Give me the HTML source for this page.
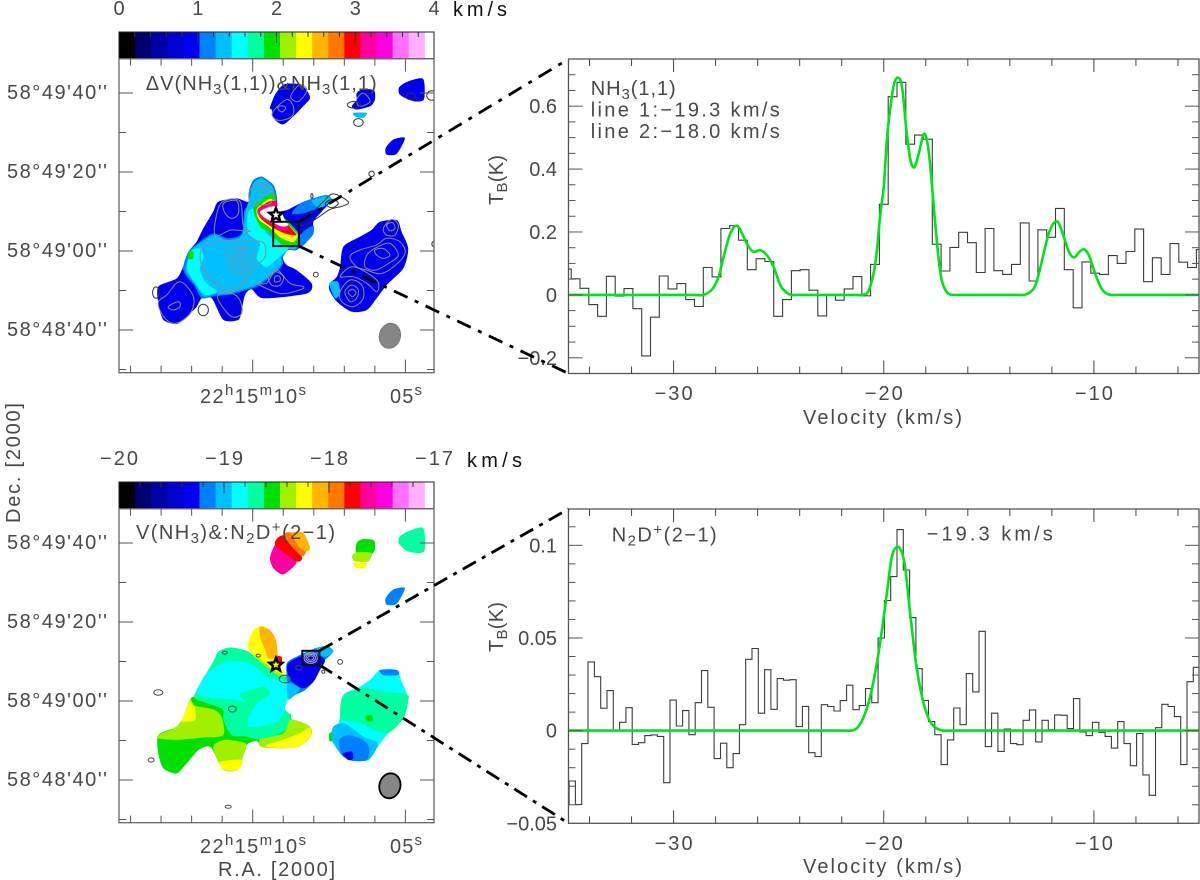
<!DOCTYPE html>
<html lang="en">
<head>
<meta charset="utf-8">
<title>NH3 and N2D+ maps and spectra</title>
<style>
html,body{margin:0;padding:0;background:#fff;width:1200px;height:880px;overflow:hidden}
svg{display:block}
text{font-family:"Liberation Sans","DejaVu Sans",sans-serif;fill:#484848;font-size:20px}
.dark{fill:#111}
</style>
</head>
<body>
<svg id="fig" width="1200" height="880" viewBox="0 0 1200 880" xmlns="http://www.w3.org/2000/svg">
<defs>
<clipPath id="clip-map-a"><rect x="119" y="58.7" width="315" height="314"/></clipPath>
<clipPath id="clip-map-b"><rect x="119" y="508.7" width="315" height="314"/></clipPath>
<clipPath id="clip-spec-a"><rect x="568.5" y="59" width="630.5" height="314.5"/></clipPath>
<clipPath id="clip-spec-b"><rect x="568.5" y="509" width="630.5" height="314.5"/></clipPath>
</defs>
<g id="map-a"></g>
<g id="map-b"></g>
<g id="spec-a"></g>
<g id="spec-b"></g>
<g id="links"></g>

<text x="145.7" y="90" textLength="231">ΔV(NH<tspan font-size="15" dy="4">3</tspan><tspan dy="-4">(1,1))&amp;NH</tspan><tspan font-size="15" dy="4">3</tspan><tspan dy="-4">(1,1)</tspan></text>
<text x="136" y="539" textLength="199">V(NH<tspan font-size="15" dy="4">3</tspan><tspan dy="-4">)&amp;:N</tspan><tspan font-size="15" dy="4">2</tspan><tspan dy="-4">D</tspan><tspan font-size="15" dy="-7">+</tspan><tspan dy="7">(2−1)</tspan></text>
<text class="dark" x="453" y="16" textLength="54">km/s</text>
<text class="dark" x="467" y="467" textLength="55">km/s</text>

<text x="200" y="403" textLength="106">22<tspan font-size="15" dy="-8">h</tspan><tspan dy="8">15</tspan><tspan font-size="15" dy="-8">m</tspan><tspan dy="8">10</tspan><tspan font-size="15" dy="-8">s</tspan></text>
<text x="390" y="403" textLength="32">05<tspan font-size="15" dy="-8">s</tspan></text>
<text x="200" y="853" textLength="106">22<tspan font-size="15" dy="-8">h</tspan><tspan dy="8">15</tspan><tspan font-size="15" dy="-8">m</tspan><tspan dy="8">10</tspan><tspan font-size="15" dy="-8">s</tspan></text>
<text x="390" y="853" textLength="32">05<tspan font-size="15" dy="-8">s</tspan></text>
<text x="218" y="876" textLength="117">R.A. [2000]</text>
<text transform="translate(20,523) rotate(-90)" textLength="120">Dec. [2000]</text>

<text x="590.7" y="95" textLength="85">NH<tspan font-size="15" dy="4">3</tspan><tspan dy="-4">(1,1)</tspan></text>
<text x="590.7" y="116.7" textLength="189">line 1:−19.3 km/s</text>
<text x="590.7" y="138" textLength="189">line 2:−18.0 km/s</text>
<text x="611.7" y="541.7" textLength="105">N<tspan font-size="15" dy="4">2</tspan><tspan dy="-4">D</tspan><tspan font-size="15" dy="-7">+</tspan><tspan dy="7">(2−1)</tspan></text>
<text x="926.7" y="540.7" textLength="126">−19.3 km/s</text>
<text transform="translate(503,205) rotate(-90)" textLength="50">T<tspan font-size="15" dy="4">B</tspan><tspan dy="-4">(K)</tspan></text>
<text transform="translate(503,652) rotate(-90)" textLength="50">T<tspan font-size="15" dy="4">B</tspan><tspan dy="-4">(K)</tspan></text>
<text x="803" y="424" textLength="159">Velocity (km/s)</text>
<text x="803" y="873" textLength="159">Velocity (km/s)</text>
</svg>

<script>
/* ---------- colour scale ---------- */
const palette = ['#000000','#00006e','#0000a8','#0000d0','#0000ee','#0080ff','#00c0ff','#00ffff','#00ffa0','#00e000','#a0f000','#ffff00','#ffb400','#ff7800','#ff0000','#ff00a0','#ff00e0','#ff70ff','#ffb0ff','#ffffff'];
const binsAcrossBar = 19.57;

/* ---------- colour-bar ticks ---------- */
const barTicksA = [0,1,2,3,4];
const barTicksB = [-20,-19,-18,-17];
const barTickLabelsA = ['0','1','2','3','4'];
const barTickLabelsB = ['−20','−19','−18','−17'];

/* ---------- map axes: RA seconds and Dec arcsec from 58°49'00'' ---------- */
const raTicks = [14,13,12,11,10,9,8,7,6,5];
const raMajor = [10,5];
const decTicks = [40,30,20,10,0,-10,-20,-30];
const decMajor = [40,20,0,-20];
const decLabels = ["58°49'40''","58°49'20''","58°49'00''","58°48'40''"];

/* ---------- map regions in map-pixel indices [i,j,...] with fitted value ---------- */
const blobA = [50.3,88.2,52,92.7,54.8,96,59.2,96.3,62,94.9,63.7,91.6,61.4,88.8,58.7,86,55.3,83,53.7,83,51.4,84.9,50.9,87.7];
const blobB = [79.2,93.2,81.4,94.6,85,94.1,85.3,91,83.7,88.8,79.2,87.7,77.6,88.8,79.2,91];
const blobBLow = [78.1,86.6,82.6,86.6,81.4,84.9,78.7,85.4];
const blobC = [93.4,95.2,96.4,97.1,101.4,97.9,101.7,91.2,98.7,90.4,95.3,91.6,93.4,93];
const blobD = [88.9,74.9,91.4,77.7,95.3,78.2,92.6,73,89.2,72.7];
const mainOuter = [33.1,57,39.2,58.1,43.1,57,43.4,60.9,44.8,64.2,47.6,65.3,51.4,62.6,52.6,58.7,53.1,54.2,55.9,54.2,60.3,56.4,64.8,58.1,69.2,59.2,70.9,57.6,67.6,53.7,64.8,50.3,64.8,46.4,62.6,43.7,59.2,40.9,56.4,40.9,54.6,38.4,55.9,35.9,59.2,34.2,64.2,29.8,62.6,26.4,48.1,24.8,44.2,27.8,42,25.9,40.9,20.9,39.8,17.6,34.8,17.6,30.9,24.8,27.6,24.8,25.9,22,22.6,18.7,19.2,16.2,14.8,17.6,13.1,23.1,13.1,28.7,19.2,31.4,21.4,35.3,23.7,40.9,25.9,43.7,28.1,48.1,31.4,53.7];
const mainAzure = [23.1,40.3,26.4,43.3,31.4,46.4,36.4,44.8,40.9,46.4,41.7,53.7,43.2,56.4,43.4,60.9,44.8,64.2,47.6,65.3,51.4,62.6,52.6,58.7,53.1,53.7,60.3,46.4,62.6,43.7,59.2,40.9,56.4,40.9,54.6,38.4,54.2,35.3,47,29.2,42.6,27.6,36.4,25.9,32,25.6,27.6,24.8,25.3,28.7,21.4,34.2];
const mainSky = [24,40.6,26.8,43,31.4,45.8,36.4,44.2,41,45.9,42.2,53.7,43.7,58.7,45,63.4,47.6,64.8,51,62.2,52.2,58.1,52.8,53.1,60,46,62,43.7,59,41.2,56.4,41.2,54.3,38.8,53.6,35.3,47,29.8,42,28,36.4,26.4,32,26.2,28.2,25.4,25.7,29,22.2,34.2];
const mainCyanW = [23.7,40.3,27,41.4,28.1,38.6,27,34.2,29.2,29.8,32.6,27,28.7,25.9,25.9,29.2,22.8,34.2];
const mainCyanE = [43.1,53.7,45.9,54.2,49.2,46.4,53.7,43.7,56.4,41.4,54.2,39.2,49.2,35.3,45.9,38.1,47,43.3,43.1,46.4];
const arcGreen = [44.8,54.8,49.2,58.9,52,59.6,52.6,53.1,55.9,50.9,59.8,46.4,59.2,42.6,55.3,42,51.4,45.3,49.8,47,47,48.7];
const arcYellow = [45.9,54.4,49.8,57.8,52,57.2,52.6,53.1,55.9,49.8,59.5,46,58.1,43.6,54.2,44.8,49.8,48.7,46.8,50.9];
const arcRed = [46.2,54.4,49.8,57,52.6,57,52.9,52.7,56.4,49.2,59.2,45.9,55.3,46.4,50.3,49,47,51.7];
const arcPink = [46.2,54.2,50.3,56.4,52.6,56.4,52.9,52,56.4,48.4,54.8,47.6,50.3,49.8,47,52];
const arcWhite = [47,53.7,50.3,55.3,53.1,55.3,54.2,53.7,55.3,50.9,56.4,49.2,54.2,48.7,50.3,50.7,48.1,52];
const arcSpot = [52.6,48.7,54.8,48.7,55.7,47.6,53.1,47.6];
const patchGreen = [23.1,40.3,24.8,40.3,24.8,38.1,23.1,37.9];
const tailAzure = [60.3,56.4,64.8,58.1,69.2,59.2,70.9,57.6,67.6,55.3,61.4,53.1,57.6,53.1];
const tailSky = [64.2,57.3,69.2,58.9,70.9,57.6,67,54.8];
const tailEdge = [61.4,47,64.8,49,64.8,46.4,62.6,43.7,59.2,40.9,59.2,42.6];
const eastOuter = [74.8,42,80.3,45.3,84.2,47.6,87,50.3,92.6,50.9,94.2,47,96.4,41.4,94.8,34.8,89.2,29.2,85.9,24.8,82.6,20.9,77.6,20.3,72.6,23.7,70.1,27.6,70.3,29.8,72.6,32,73.7,35.3];
const eastSliver = [70.1,29.8,73,30.3,73.7,26.4,72,24.8];

const bMainTeal = [33.1,57,37,58.4,42.6,57.3,45.3,55.3,49.2,52,53.1,49.2,55.9,48.7,56.4,42,55.3,38.1,57,35.9,57.6,33.1,54.2,29.8,47,27.6,42.6,28.7,37.6,29.2,34.8,34.2,34.8,37.6,31.4,39.2,25.3,41.4,25.9,44.2,28.1,48.1,31.4,53.7];
const bGreen = [25.3,42,31.4,39.8,35.7,37.6,36.1,33.1,38.1,29.8,47,28.4,53.7,30.3,57,36.4,57.9,33.1,63.7,32,63.9,28.7,59.2,25.1,48.1,25.1,45.9,27.3,42.6,25.9,40.9,20.9,39.8,17.6,34.8,17.6,30.9,24.8,28.7,25.3,25.9,23.7,22.6,19.8,19.2,16.4,14.8,18.1,13.1,23.1,13.1,29.2,19.2,32,21.4,35.3,23.7,40.9];
const bLimeW = [19.2,32,21.4,35.3,23.7,40.9,25.3,39,31.4,37.8,34.2,35.3,34.8,29.2,28.1,28.4,19.2,27.6,13.2,28.1,13.2,29.2];
const bLimeS = [31.4,25.3,35.3,27.6,40.3,27,42.6,25.9,40.9,20.9,39.8,17.6,34.8,17.6];
const bYellowS = [33.7,20.3,40.9,20.9,39.8,17.6,34.8,17.6];
const bLimeE = [47,27.6,54.8,29.8,57,34.2,60.3,33.7,63.7,32,63.9,28.7,59.2,25.1,48.1,25.1];
const bYellowE = [49.2,25.9,53.7,27.3,60.3,29.8,63.7,31.8,63.9,28.7,59.2,25.1,50.3,25.1];
const bYellowW = [21.4,35.3,23.7,40.3,25.3,38.1,25.3,34.2,20.9,33.7];
const bCyan = [25.9,43.7,29.2,49.8,35.9,53.7,43.7,53.1,49.2,48.7,53.7,47.6,55.9,46.4,56.1,42,55.3,38.1,54.2,35.3,51.4,33.1,45.9,32,43.1,32,43.1,35.3,42.6,39.8,35.9,41.4,31.4,41.4,27,42.6];
const bTealBand = [40.3,42.9,48.1,45.3,50.3,42.9,45.9,39.8,43.1,35.3,42.6,39.8];
const bTailAzure = [55.9,53.1,60.3,55.9,65.3,58.1,69.2,58.9,71.4,57,67.6,53.1,65.3,47.6,62,44.2,58.7,42.6,56.4,41.2,56.1,46.4];
const bTailSkyLow = [55.9,45.9,57.6,46.4,60.3,44.8,58.7,42.6,56.4,41.2];
const bTailSkyTip = [65.9,58.1,69.2,58.7,71.4,57,68.7,55.3,66.4,56.4];
const bTailDark = [56.4,53.1,60.3,55.3,65.9,55.9,68.7,54.2,67,50.9,64.8,47,61.4,44.8,57.6,47,56.1,50.3];
const bCapYellow = [43.1,59.8,44.8,64.2,47.6,65.6,50.3,64.2,52.3,60.9,52.6,55.9,54.2,54.8,54.2,50.9,55.9,50.3,55.3,49.8,52.6,49.8,49.2,52,45.3,55.3,43.4,57.6];
const bCapOrange = [47,65.3,50.3,64.2,52.3,60.9,52.8,55.3,49.8,54.8,48.7,57.6,47,62];
const bCapRed = [52,55.6,54.2,55.3,54.2,53.7,52.6,54.2];
const bCapLime = [45.3,55.9,48.1,53.7,52.6,50.3,55.9,48.9,53.1,49.2,49.2,52];
const bEastCyan = [74.8,42.6,80.3,45.3,84.2,48.1,87,50.9,92.6,50.9,94.2,47,96.4,41.4,94.8,34.8,89.2,29.2,85.9,24.8,83.1,20.9,77.6,20.7,74.2,22.6,70.9,27.6,70.3,29.8,72.6,32,73.7,35.3];
const bEastTeal = [74.6,42.1,81.4,44.8,89.2,43.7,96.1,42.6,96.4,40.9,94.8,34.8,89.2,29.8,80.3,33.1,74.8,34.2,73.7,35.3];
const bEastSky = [71.4,32,75.3,33.1,81.4,28.7,85.9,27,85.9,24.8,83.1,20.9,77.6,20.7,74.2,22.6,70.9,27.6];
const bEastAzure = [73.4,27.6,76.4,29.2,81.4,27.6,83.4,24.8,82.6,20.9,77.6,20.7,74.2,22.6];
const bEastDark = [74.6,23.1,77.6,23.7,78.1,21.4,76.4,20.9];
const bEastTip = [87,50.9,92.6,50.9,93.1,49.2,88.1,49.2];
const bEastDot = [82,35.3,84.2,35.9,84.8,34.2,83.1,33.7];
const bEastEdge = [70.1,29.8,71,29.8,71,27.3,70.1,27.3];
const bBlobPink = [50.3,88.2,52,92.7,54.2,93.8,59.2,87.1,55.3,83,53.7,83,51.4,84.9];
const bBlobRed = [52,92.7,54.8,95.7,60.9,88.8,59.2,87.1];
const bBlobOrange = [54.8,95.7,57.6,96.6,62.3,91.6,60.9,88.8];
const bBlobAmber = [57.6,96.6,61.4,96.6,63.7,91.6,62.3,90.4,60,92];
const bBGreen = [79.2,93.2,81.4,94.6,85,94.1,85.3,91,83.7,89.3,79.2,89.9];
const bBLime = [77.6,88.8,79.2,90.1,84.2,89.9,83.1,87.1,78.7,87.1];
const bBYellow = [78.1,86.6,82.6,86.6,81.9,84.9,79.2,84.9];
const bCTeal = [93.4,95.2,96.4,97.1,101.4,98.2,101.7,90.4,96.4,90.4,93.4,92.9];

const layerValuesA = [0.9,0.9,1.3,0.9,0.9,0.9,1.1,1.3,1.5,1.5,1.9,2.3,2.9,3.1,3.9,3.1,1.9,1.1,1.3,1.1,0.9,1.3];
const layerShapesA = [blobA,blobB,blobBLow,blobC,blobD,mainOuter,mainAzure,mainSky,mainCyanW,mainCyanE,arcGreen,arcYellow,arcRed,arcPink,arcWhite,arcSpot,patchGreen,tailAzure,tailSky,tailEdge,eastOuter,eastSliver];
const layerValuesB = [-18.575,-18.725,-18.425,-18.425,-18.275,-18.425,-18.275,-18.275,-18.875,-18.725,-19.175,-19.025,-19.025,-19.325,-18.275,-18.125,-17.825,-18.425,-18.875,-18.725,-19.025,-19.175,-19.325,-19.175,-18.575,-18.575,-17.675,-17.825,-17.975,-18.125,-18.575,-18.425,-18.275,-18.725,-19.175];
const layerShapesB = [bGreen,bMainTeal,bLimeW,bLimeS,bYellowS,bLimeE,bYellowE,bYellowW,bCyan,bTealBand,bTailAzure,bTailSkyLow,bTailSkyTip,bTailDark,bCapYellow,bCapOrange,bCapRed,bCapLime,bEastCyan,bEastTeal,bEastSky,bEastAzure,bEastDark,bEastTip,bEastDot,bEastEdge,bBlobPink,bBlobRed,bBlobOrange,bBlobAmber,bBGreen,bBLime,bBYellow,bCTeal,blobD];

/* ---------- contours, map-pixel indices ---------- */
const contoursGrayA = [
[27.6,41.4,33.7,43.6,42.6,43.9,48.1,43.3,48.7,38.7,46,35.9,42.6,32,40.9,28.7,36.4,27.6,31.4,30.4,27.6,35.3],
[36.4,41.2,41.4,42,45.3,40.1,43.7,35.7,40.4,32.9,37.6,34,36.4,37.6],
[38.1,39.2,41.4,40.9,43.1,38.4,40.9,34.7,38.7,35.2],
[39,38.4,40.9,39.2,41.2,37,39.8,36.4],
[34.8,56.4,39.2,57.3,39.8,53.1,37.6,51.4,35.4,53.1],
[33.1,54.8,35.9,57.6,40.4,57,41.4,49.2,43.7,47,37.6,47.6,32,45.9],
[49.8,32,52,33.7,54.8,32,53.7,29.2,50.9,29.2],
[52,32,53.4,32.2,53.7,30.7,52,30.3],
[49.2,29.8,52.6,34.2,57,29.8,61.4,28.7,60.3,27.6,53.7,26.4,46,29.8],
[15.9,25.9,20.3,30.3,24.8,25.3,23.7,19.7,18.7,16.4,14.8,18.7,13.1,23.4],
[16.4,22,19.8,23.7,20.3,22,18.1,20.9],
[37.6,26.4,40.3,24.2,40.9,19.8,37.6,18.7,33.7,23.1,33.1,25.9],
[43.7,60.9,48.1,63.1,51.4,59.8,50.3,56.4,46.4,55.9,43.7,56.4],
[46.8,61,48.7,62.2,49.2,60.7,47.6,60],
[77,38.7,80.3,40.9,85.9,42.6,89.2,44.8,93.7,43.6,95.3,39.7,91.4,35.2,87,33,82.6,34.2,79.2,35.3],
[82.6,39.2,85.9,41.8,90.3,43.1,93.1,39.2,89.8,36.4,85.4,34.2,82,35.3],
[85.3,40.9,88.1,41.4,90.3,39.2,88.1,38.1,85.9,39.2],
[88.1,48.1,90.9,51.1,93.1,49.2,92,45.9,89.2,45.9],
[89.2,49.2,91.2,50,92,48.1,90.3,47.3],
[73.7,27,77,30.9,80.9,29.2,81.4,24.8,78.1,22,74.2,23.7],
[75.3,27,77.6,29.2,79.8,27.6,79.2,24.8,77,23.7],
[76.4,26.9,77.8,27.8,79,26.7,77.8,25.3],
[73.7,32,78.1,35.3,85.9,30.9,85.9,27,82.6,29.8,78.1,32],
[51.1,86.6,55.8,91,58.1,88.8,57.6,85.4,53.1,84.1],
[52.9,88.2,54.2,89,55.6,88.2,54.2,86.9],
[57.2,92.1,60.3,96,62.6,94.1,59.8,90.4],
[79.2,91,81.4,93.2,83.7,90.4,80.3,88.8]
];
const contoursDarkA = [
[60.3,49.8,64.8,53.7,68.1,57,71.4,59.6,76.4,57,74.7,55.6,70.3,54.4,65.9,51.4,61.9,49.2],
[68.7,56.4,71.4,57.8,73.1,56.4,70.9,55]
];
/* small closed contours: centre i, centre j, radius i, radius j */
const smallContoursA = [[28.1,20.9,1.7,1.9],[12.3,26.7,1.1,1.9],[65.6,32.7,0.8,0.8],[64.3,58.9,0.35,0.8],[104.8,42.9,0.5,0.8],[78.3,89.3,2.2,1.1],[79.8,83.4,1.6,1.3],[84.2,66.3,0.9,0.9],[104.2,92.4,1.6,1.6],[97.2,92.1,1.6,1.1]];
const smallContoursB = [[35.3,56.7,0.8,0.5],[46.4,55.7,0.7,0.5],[13.1,43.4,1.5,0.9],[37.8,37.9,1.3,1],[55.3,47.9,1.9,1.3],[60,51.7,1.1,0.8],[10.7,20.9,1,0.7],[73.7,53.6,0.8,0.8],[68.1,50.3,0.5,0.5],[36.4,5.3,1,0.5]];
const clumpContoursB = [[63.9,54.9,2.2,1.8],[63.9,54.9,1.6,1.2],[63.9,54.9,1,0.7]];

/* ---------- markers: zoom box [iMin,iMax,jMin,jMax], star [i,j], beam [i,j,ri,rj] ---------- */
const zoomBoxA = [51.4,60,42.2,50.3];
const zoomBoxB = [61.1,66.8,52.6,57.3];
const starPos = [52.3,52.6];
const beamPos = [90.3,12.3,3.5,4.2];

/* ---------- spectrum 1: NH3(1,1) ---------- */
const spec1Start = -35.29;
const spec1Width = 0.419;
const spec1Values = [0.082,0.051,0.021,-0.031,-0.068,0.059,-0.004,0.02,-0.044,-0.194,-0.071,0.06,0.019,0.036,-0.015,-0.037,0.087,0.057,0.211,0.22,0.174,0.08,0.115,0.106,-0.068,-0.015,0.077,0.08,0.015,-0.067,0,-0.017,0.019,0.058,-0.003,0.097,0.288,0.63,0.676,0.479,0.508,0.495,0.161,0.076,0.151,0.199,0.166,0.071,0.211,0.077,0.065,0.097,0.229,0.044,0.207,0.183,0.275,0.08,-0.041,0.105,0.069,0.065,0.125,0.1,0.138,0.209,0.042,0.118,0.065,0.163,0.104,0.087,0.144];
const fit1Vel = [-35,-30,-29,-28.57,-28.17,-27.86,-27.62,-27.3,-26.98,-26.67,-26.43,-26.19,-25.87,-25.56,-25.24,-24.92,-24.6,-24.36,-24,-22,-21.4,-21.03,-20.71,-20.4,-20.16,-20,-19.84,-19.68,-19.52,-19.33,-19.13,-18.92,-18.73,-18.54,-18.33,-18.09,-17.89,-17.7,-17.54,-17.38,-17.22,-16.98,-16.74,-16.4,-15,-13.7,-13.33,-13.01,-12.78,-12.54,-12.22,-11.98,-11.71,-11.46,-11.19,-10.95,-10.71,-10.48,-10.24,-10,-9.76,-9.52,-9.2,-8.8,-5];
const fit1Temp = [0,0,0,0,0.017,0.057,0.121,0.195,0.22,0.185,0.153,0.137,0.142,0.126,0.089,0.031,0.006,0,0,0,0,0,0.015,0.1,0.259,0.344,0.503,0.599,0.668,0.691,0.662,0.524,0.429,0.406,0.45,0.512,0.471,0.344,0.217,0.11,0.041,0.007,0,0,0,0,0,0.01,0.031,0.089,0.179,0.222,0.232,0.19,0.137,0.119,0.135,0.145,0.126,0.079,0.036,0.01,0,0,0];
const spec1YTicks = [-0.2,0,0.2,0.4,0.6];
const spec1YLabels = ['−0.2','0','0.2','0.4','0.6'];

/* ---------- spectrum 2: N2D+(2-1) ---------- */
const spec2Start = -35.27;
const spec2Width = 0.3;
const spec2Values = [-0.0399,-0.0272,-0.0399,-0.007,0.0371,0.0291,0.0121,0.0216,0,0.0045,0.0124,-0.0074,-0.0065,-0.0027,-0.0023,-0.0031,-0.0281,0.0165,0.0025,0.0108,-0.0022,0.0151,0.0324,0.0126,-0.0151,-0.0068,-0.02,-0.0124,0.0032,0.0385,0.0443,0.0094,0.0329,0.0115,0.0281,0.0272,0.0275,0.0022,0.0131,-0.0119,-0.014,0.014,0.013,0.0106,0.0162,0.0245,0.0113,0.0135,0.0227,0.0151,0.05,0.0702,0.0831,0.1085,0.0867,0.061,0.0335,0.0162,0.0049,-0.0022,-0.0183,-0.005,0.0122,0.0032,0.0308,0.0209,0.0536,-0.0086,0.0094,-0.0112,0.0009,-0.007,-0.0076,0.0056,0.0112,-0.0061,0.0056,0.0005,0.0085,0.0083,0.0011,0.0173,-0.0007,-0.0027,0.0045,-0.0009,-0.0031,-0.0094,0.0049,-0.007,-0.0189,-0.0016,-0.0239,-0.0349,0.0016,0.0142,0.013,0.0076,-0.0183,0.0264,0.0342];
const fit2Vel = [-35,-25,-22,-21.59,-21.27,-20.95,-20.63,-20.32,-20.08,-19.84,-19.6,-19.28,-19.01,-18.73,-18.46,-18.17,-17.86,-17.54,-17.14,-16.7,-12,-5];
const fit2Temp = [0,0,0,0,0.0014,0.0075,0.019,0.037,0.055,0.075,0.0946,0.099,0.09,0.062,0.036,0.018,0.0065,0.0016,0,0,0,0];
const spec2YTicks = [-0.05,0,0.05,0.1];
const spec2YLabels = ['−0.05','0','0.05','0.1'];

const velTicks = [-34,-32,-30,-28,-26,-24,-22,-20,-18,-16,-14,-12,-10,-8,-6];
const velMajor = [-30,-20,-10];
const velLabels = ['−30','−20','−10'];

/* ---------- helpers ---------- */
const NS = 'http://www.w3.org/2000/svg';
function mk(parent, tag, attrs){
  const el = document.createElementNS(NS, tag);
  for (const k in attrs) el.setAttribute(k, attrs[k]);
  parent.appendChild(el);
  return el;
}
function smoothPath(pts, closed, soft){
  const n = pts.length;
  const div = soft || 6;
  const at = k => closed ? pts[(k+n)%n] : pts[Math.max(0,Math.min(n-1,k))];
  let d = 'M'+pts[0][0].toFixed(1)+' '+pts[0][1].toFixed(1);
  const last = closed ? n : n-1;
  for (let k=0;k<last;k++){
    const p0=at(k-1),p1=at(k),p2=at(k+1),p3=at(k+2);
    const c1=[p1[0]+(p2[0]-p0[0])/div,p1[1]+(p2[1]-p0[1])/div];
    const c2=[p2[0]-(p3[0]-p1[0])/div,p2[1]-(p3[1]-p1[1])/div];
    d+='C'+c1[0].toFixed(1)+' '+c1[1].toFixed(1)+' '+c2[0].toFixed(1)+' '+c2[1].toFixed(1)+' '+p2[0].toFixed(1)+' '+p2[1].toFixed(1);
  }
  return d+(closed?'Z':'');
}

/* ---------- map panel ---------- */
function drawMap(root, o){
  const L=119,R=434,T=o.offset+58.7,B=o.offset+372.7,barT=o.offset+32;
  const gx = i => L+3*i;
  const gy = j => B-3*j;
  const raX = s => 252.7+(10-s)*30.54;
  const decY = a => o.offset+251-a*3.95;
  const barX = v => L+(v-o.vmin)/(o.vmax-o.vmin)*(R-L);
  const binOf = v => Math.max(0,Math.min(palette.length-1,Math.floor((v-o.vmin)/(o.vmax-o.vmin)*binsAcrossBar)));

  /* colour bar */
  palette.forEach((c,k)=>{
    const x0=L+(R-L)*k/binsAcrossBar, x1=Math.min(R,L+(R-L)*(k+1)/binsAcrossBar);
    const r=mk(root,'rect',{x:x0,y:barT,width:x1-x0+0.4,height:T-barT,fill:c});
    
    
  });
  const nMinor=Math.round((o.vmax-o.vmin)/0.2);
  for(let k=0;k<=nMinor;k++){
    const v=o.vmin+k*0.2;
    const major=Math.abs(v-Math.round(v))<1e-6;
    const t=mk(root,'line',{x1:barX(v),x2:barX(v),y1:barT,y2:barT+(major?11:5),stroke:'#333','stroke-width':1});
    
    
  }
  const fr=mk(root,'rect',{x:L,y:barT,width:R-L,height:T-barT,fill:'none',stroke:'#222','stroke-width':1});
  
  
  o.barTicks.forEach((v,k)=>{
    const lb=mk(root,'text',{x:barX(v),y:o.offset+15,'text-anchor':'middle'});
    if(o.barLabels[k].length>1) lb.setAttribute('textLength',38);
    lb.textContent=o.barLabels[k];
    
    
  });

  /* image */
  const img=mk(root,'g',{'clip-path':'url(#'+o.clip+')'});
  
  
  const toPts = s => { const a=[]; for(let m=0;m<s.length;m+=2) a.push([gx(s[m]),gy(s[m+1])]); return a; };
  o.shapes.forEach((s,k)=>{
    const p=mk(img,'path',{d:smoothPath(toPts(s),true,8),fill:palette[binOf(o.values[k])]});
    
    
  });

  /* contours */
  o.grayContours.forEach(s=>{
    const c=mk(img,'path',{d:smoothPath(toPts(s),true),fill:'none',stroke:'#8c8c8c','stroke-width':1});
    
    
  });
  o.darkContours.forEach(s=>{
    const c=mk(img,'path',{d:smoothPath(toPts(s),true),fill:'none',stroke:'#333','stroke-width':1});
    
    
  });
  o.small.forEach(e=>{
    const c=mk(img,'ellipse',{cx:gx(e[0]),cy:gy(e[1]),rx:e[2]*3,ry:e[3]*3,fill:'none',stroke:o.smallStroke,'stroke-width':1});
    
    
  });
  if(o.clump) o.clump.forEach(e=>{
    const c=mk(img,'ellipse',{cx:gx(e[0]),cy:gy(e[1]),rx:e[2]*3,ry:e[3]*3,fill:'none',stroke:'#aaa','stroke-width':1});
    
    
  });

  /* zoom box */
  const zb=o.box;
  const bx=mk(root,'rect',{x:gx(zb[0]),y:gy(zb[3]),width:gx(zb[1])-gx(zb[0]),height:gy(zb[2])-gy(zb[3]),fill:'none',stroke:'#111','stroke-width':2});
  
  

  /* star */
  const sp=[];
  for(let k=0;k<10;k++){
    const r=k%2?3.1:6.9, a=-Math.PI/2+k*Math.PI/5;
    sp.push((gx(starPos[0])+r*Math.cos(a)).toFixed(1)+','+(gy(starPos[1])+r*Math.sin(a)).toFixed(1));
  }
  const st=mk(root,'polygon',{points:sp.join(' '),fill:'none',stroke:'#000','stroke-width':2.4});
  
  

  /* beam */
  const bm=mk(root,'ellipse',{cx:gx(beamPos[0]),cy:gy(beamPos[1]),rx:beamPos[2]*3,ry:beamPos[3]*3,fill:'#868686',stroke:o.beamStroke,'stroke-width':o.beamWidth,transform:'rotate(14 '+gx(beamPos[0])+' '+gy(beamPos[1])+')'});
  
  

  /* frame + ticks */
  const f=mk(root,'rect',{x:L,y:T,width:R-L,height:B-T,fill:'none',stroke:'#666','stroke-width':1.3});
  
  
  raTicks.forEach(s=>{
    const len=raMajor.includes(s)?13:7;
    [[T,T+len],[B,B-len]].forEach(pair=>{
      const t=mk(root,'line',{x1:raX(s),x2:raX(s),y1:pair[0],y2:pair[1],stroke:'#555','stroke-width':1});
      
      
    });
  });
  decTicks.forEach(a=>{
    const len=decMajor.includes(a)?14:7;
    [[L,L+len],[R,R-len]].forEach(pair=>{
      const t=mk(root,'line',{x1:pair[0],x2:pair[1],y1:decY(a),y2:decY(a),stroke:'#555','stroke-width':1});
      
      
    });
  });
  decMajor.forEach((a,k)=>{
    const lb=mk(root,'text',{x:7,y:decY(a)+6,textLength:100});
    lb.textContent=decLabels[k];
    
    
  });
}

/* ---------- spectrum panel ---------- */
function drawSpectrum(root, o){
  const L=568.5,R=1199,T=o.top,B=o.bottom;
  const vx = v => L+(v+35)/30*(R-L);
  const ty = t => B-(t-o.ymin)/(o.ymax-o.ymin)*(B-T);

  const g=mk(root,'g',{'clip-path':'url(#'+o.clip+')'});
  
  

  let d='';
  o.values.forEach((t,k)=>{
    const x0=vx(o.start+k*o.width), x1=vx(o.start+(k+1)*o.width), y=ty(t);
    d+=(k?'L':'M')+x0.toFixed(1)+' '+y.toFixed(1)+'L'+x1.toFixed(1)+' '+y.toFixed(1);
  });
  const h=mk(g,'path',{d:d,fill:'none',stroke:'#3c3c3c','stroke-width':1.1});
  
  

  const pts=o.fitVel.map((v,k)=>[vx(v),ty(o.fitTemp[k])]);
  const fit=mk(g,'path',{d:smoothPath(pts,false),fill:'none',stroke:'#00e21a','stroke-width':2.6});
  
  

  const f=mk(root,'rect',{x:L,y:T,width:R-L,height:B-T,fill:'none',stroke:'#555','stroke-width':1.3});
  
  

  velTicks.forEach(v=>{
    const len=velMajor.includes(v)?13:7;
    [[T,T+len],[B,B-len]].forEach(pair=>{
      const t=mk(root,'line',{x1:vx(v),x2:vx(v),y1:pair[0],y2:pair[1],stroke:'#444','stroke-width':1});
      
      
    });
  });
  velMajor.forEach((v,k)=>{
    const lb=mk(root,'text',{x:vx(v),y:o.xLabelY,'text-anchor':'middle',textLength:38});
    lb.textContent=velLabels[k];
    
    
  });

  const n=Math.round((o.ymax-o.ymin)/o.minor);
  for(let k=1;k<n;k++){
    const t=o.ymin+k*o.minor;
    const major=o.yTicks.some(m=>Math.abs(m-t)<1e-6);
    const len=major?14:7;
    [[L,L+len],[R,R-len]].forEach(pair=>{
      const ln=mk(root,'line',{x1:pair[0],x2:pair[1],y1:ty(t),y2:ty(t),stroke:'#555','stroke-width':1});
      
      
    });
  }
  o.yTicks.forEach((t,k)=>{
    const lb=mk(root,'text',{x:557,y:ty(t)+7,'text-anchor':'end'});
    lb.textContent=o.yLabels[k];
    
    
  });
}

drawMap(document.getElementById('map-a'),{offset:0,vmin:0,vmax:4,clip:'clip-map-a',barTicks:barTicksA,barLabels:barTickLabelsA,shapes:layerShapesA,values:layerValuesA,grayContours:contoursGrayA,darkContours:contoursDarkA,small:smallContoursA,smallStroke:'#333',clump:null,box:zoomBoxA,beamStroke:'#777',beamWidth:1});
drawMap(document.getElementById('map-b'),{offset:450,vmin:-20,vmax:-17,clip:'clip-map-b',barTicks:barTicksB,barLabels:barTickLabelsB,shapes:layerShapesB,values:layerValuesB,grayContours:[],darkContours:[],small:smallContoursB,smallStroke:'#444',clump:clumpContoursB,box:zoomBoxB,beamStroke:'#000',beamWidth:1.8});

drawSpectrum(document.getElementById('spec-a'),{top:59,bottom:373.5,ymin:-0.25,ymax:0.75,minor:0.05,clip:'clip-spec-a',start:spec1Start,width:spec1Width,values:spec1Values,fitVel:fit1Vel,fitTemp:fit1Temp,yTicks:spec1YTicks,yLabels:spec1YLabels,xLabelY:400});
drawSpectrum(document.getElementById('spec-b'),{top:509,bottom:823.3,ymin:-0.05,ymax:0.1196,minor:0.01,clip:'clip-spec-b',start:spec2Start,width:spec2Width,values:spec2Values,fitVel:fit2Vel,fitTemp:fit2Temp,yTicks:spec2YTicks,yLabels:spec2YLabels,xLabelY:850});

/* ---------- connector lines from the zoom boxes to the spectra ---------- */
const links=document.getElementById('links');
function connector(x1,y1,x2,y2,dash){
  const l=mk(links,'line',{x1:x1,y1:y1,x2:x2,y2:y2,stroke:'#000','stroke-width':2.8,'stroke-dasharray':dash});
  
  
}
const boxGx = i => 119+3*i;
const boxGy = (j,off) => off+372.7-3*j;
connector(boxGx(zoomBoxA[1]),boxGy(zoomBoxA[3],0),568.5,59,'15 8 4 8');
connector(boxGx(zoomBoxA[1]),boxGy(zoomBoxA[2],0),568.5,373.5,'15 8 4 8');
connector(boxGx(zoomBoxB[1]),boxGy(zoomBoxB[3],450),568.5,509,'15 7 4 7');
connector(boxGx(zoomBoxB[1]),boxGy(zoomBoxB[2],450),568.5,823.3,'15 7 4 7');
</script>
</body>
</html>
